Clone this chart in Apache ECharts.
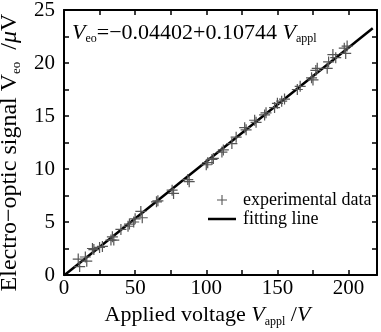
<!DOCTYPE html>
<html>
<head>
<meta charset="utf-8">
<script src="https://cdn.jsdelivr.net/npm/echarts@6/dist/echarts.min.js"></script>
<style>
  html, body { margin: 0; padding: 0; background: #fff; }
  #chart { width: 381px; height: 332px; }
</style>
</head>
<body>
<div id="chart"></div>
<script>
// measured points [Vappl, Veo]
const expData = [
  [10, 1.5], [11, 0.8], [15, 1.7], [16, 1.3], [20, 2.5], [21, 2.4],
  [25, 2.6], [27, 2.7], [33, 3.3], [34, 3.6], [35, 3.3], [40, 4.3],
  [45, 4.6], [46, 4.8], [49, 5.0], [50, 5.3], [54, 6.0], [55, 5.4],
  [65, 6.9], [66, 7.0], [76, 8.0], [77, 7.7], [87, 9.0], [88, 8.8],
  [100, 10.4], [101, 10.6], [104, 10.9], [105, 11.0], [111, 11.6], [112, 11.8],
  [118, 12.4], [121, 13.0], [127, 13.9], [128, 13.7], [134, 14.6], [135, 14.4],
  [141, 15.1], [142, 15.3], [148, 15.8], [150, 16.2], [153, 16.4], [155, 16.6],
  [164, 17.5], [166, 17.8], [174, 18.6], [175, 18.4], [177, 19.3], [178, 19.5],
  [185, 19.5], [186, 20.1], [189, 20.8], [191, 20.5], [197, 21.4], [198, 20.9], [199, 21.6]
];
// fitted line end points
const fitLine = [[0, -0.044], [217, 23.27]];
const xLabels = [0, 50, 100, 150, 200];
const yLabels = [0, 5, 10, 15, 20, 25];

const serif = 'Liberation Serif';
const plus = 'path://M4.45,0h1.1v10h-1.1zM0,4.45h10v1.1h-10z';

const axisLine = {show: true, onZero: false, lineStyle: {color: '#000', width: 2}};
const axisTick = {show: true, inside: true, length: 5, lineStyle: {color: '#000', width: 1.5}};
const labelStyle = {fontFamily: serif, fontSize: 21, color: '#000'};

const rich = (size, sub, lh, fill) => {
  const c = fill ? {fill: '#000'} : {color: '#000'};
  return {
    n: {fontFamily: serif, fontSize: size, lineHeight: lh, ...c},
    i: {fontFamily: serif, fontSize: size, fontStyle: 'italic', lineHeight: lh, ...c},
    s: {fontFamily: serif, fontSize: sub, lineHeight: sub + 2, verticalAlign: 'bottom', ...c}
  };
};

const chart = echarts.init(document.getElementById('chart'));
chart.setOption({
  animation: false,
  grid: {left: 64, right: 4, top: 10, bottom: 57, containLabel: false, outerBoundsMode: 'none'},
  legend: {
    left: 203, top: 186, orient: 'vertical',
    itemWidth: 28, itemHeight: 10, itemGap: 1,
    textStyle: {fontFamily: serif, fontSize: 18, color: '#000', lineHeight: 18, padding: [0, 0, 0, 2]},
    data: [
      {name: 'experimental data'},
      {name: 'fitting line', icon: 'path://M0,0h28v2.5h-28z'}
    ]
  },
  graphic: [{
    type: 'text', left: 72, top: 22,
    style: {
      text: '{i|V}{s|eo}{n|=−0.04402+0.10744 }{i|V}{s|appl}',
      rich: rich(22, 12, 24, true)
    }
  }],
  xAxis: [{
    type: 'value', min: 0, max: 220, interval: 25,
    axisLine, axisTick, splitLine: {show: false},
    axisLabel: {...labelStyle, margin: 3, showMaxLabel: false,
      formatter: v => xLabels.includes(v) ? String(v) : ''},
    name: '{n|Applied voltage }{i|V}{s|appl}{n| /}{i|V}',
    nameLocation: 'middle', nameGap: 28,
    nameTextStyle: {rich: rich(22, 12, 25), padding: [0, 26, 0, 0]}
  }, {
    type: 'value', position: 'top', min: 0, max: 220, interval: 25,
    axisLine, axisTick, splitLine: {show: false}, axisLabel: {show: false}
  }],
  yAxis: [{
    type: 'value', min: 0, max: 25, interval: 2.5,
    axisLine, axisTick, splitLine: {show: false},
    axisLabel: {...labelStyle, margin: 9,
      formatter: v => yLabels.includes(v) ? String(v) : ''},
    name: '{n|Electro−optic signal V}{s|eo}{n|  /}{i|μ}{n|V}',
    nameLocation: 'middle', nameGap: 36, nameRotate: 90,
    nameTextStyle: {rich: rich(24, 13, 26), padding: [0, 20, 0, 0]}
  }, {
    type: 'value', position: 'right', min: 0, max: 25, interval: 2.5,
    axisLine, axisTick, splitLine: {show: false}, axisLabel: {show: false}
  }],
  series: [{
    name: 'fitting line', type: 'line', data: fitLine,
    symbol: 'none', lineStyle: {color: '#000', width: 2.5}, itemStyle: {color: '#000'},
    z: 2
  }, {
    name: 'experimental data', type: 'scatter', data: expData,
    symbol: plus, symbolSize: 11, symbolKeepAspect: true,
    itemStyle: {color: '#555', opacity: 1}, z: 3
  }]
});
</script>
</body>
</html>
